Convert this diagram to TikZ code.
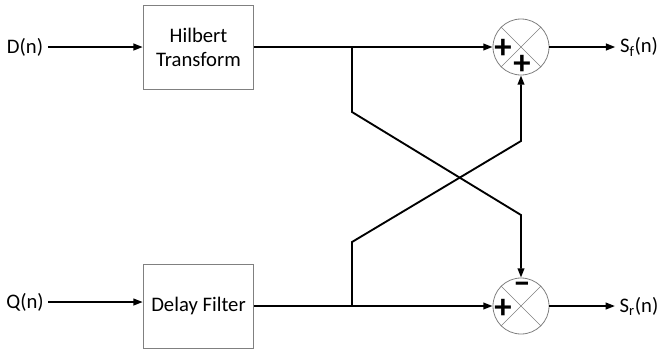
\documentclass[tikz,border=0pt]{standalone}
\usepackage{fontspec}
\setmainfont{Carlito}
\usetikzlibrary{arrows.meta}

\begin{document}
\begin{tikzpicture}[x=0.75pt,y=-0.75pt,font=\fontsize{15.5}{18}\selectfont,
    blk/.style={draw=gray,line width=0.6pt,minimum width=83pt,minimum height=63pt,align=center},
    summer/.style={circle,draw=gray,line width=0.6pt,minimum size=42pt,inner sep=0pt},
    wire/.style={line width=1.4pt},
    arr/.style={wire,-{Triangle[length=7pt,width=5pt]}},
    sgn/.style={inner sep=0pt,font=\fontsize{26}{26}\selectfont\bfseries}]
      \useasboundingbox (0,0) rectangle (659,354);
      \node[blk] (hil) at (198.5,47) {Hilbert\\Transform};
      \node[blk] (dly) at (198.5,306) {Delay Filter};
      \node[summer] (st) at (521,47) {};
      \node[summer] (sb) at (521,306) {};
      \draw[gray,line width=0.4pt] (st.north west) -- (st.south east) (st.north east) -- (st.south west);
      \draw[gray,line width=0.4pt] (sb.north west) -- (sb.south east) (sb.north east) -- (sb.south west);
      \node[sgn] at (503,49) {+};
      \node[sgn] at (522,65) {+};
      \node[sgn] at (522,288) {\textendash};
      \node[sgn] at (503,309) {+};
      \node (din) at (25,47) {D(n)};
      \node (qin) at (25,302) {Q(n)};
      \node (sf) at (639,47) {S\textsubscript{f}(n)};
      \node (sr) at (639,306) {S\textsubscript{r}(n)};
      \coordinate (ta) at (352,47);
      \coordinate (tb) at (352,112);
      \coordinate (tc) at (521,215);
      \coordinate (ba) at (352,306);
      \coordinate (bb) at (352,242);
      \coordinate (bc) at (521,141);
      \draw[arr] (din) -- (hil);
      \draw[arr] (qin) -- (qin -| dly.west);
      \draw[arr] (hil.east) -- (st.west);
      \draw[arr] (dly.east) -- (sb.west);
      \draw[arr] (st.east) -- (sf.west);
      \draw[arr] (sb.east) -- (sr.west);
      \draw[arr] (ta) -- (tb) -- (tc) -- (sb.north);
      \draw[arr] (ba) -- (bb) -- (bc) -- (st.south);
    \end{tikzpicture}
\end{document}
